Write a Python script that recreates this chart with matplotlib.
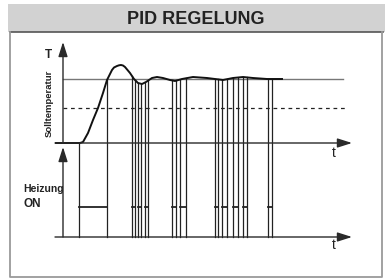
import numpy as np
import matplotlib
matplotlib.use('Agg')
import matplotlib.pyplot as plt

plt.rcParams['font.family'] = ['Liberation Sans', 'DejaVu Sans']

# temperature curve (x = time in px, y = screen px)
curve_x = [56, 80, 83, 88, 93, 98, 103, 107, 112, 114, 117, 119, 121, 123, 125, 130, 134, 138, 142,
           146, 152, 157, 163, 170, 175, 182, 193, 207, 215, 223, 233, 243, 253, 267, 282]
curve_y = [143, 143, 142, 133, 120, 108, 93, 80, 70, 67.5, 66, 65.3, 65, 65.5, 67, 73, 79, 83, 84,
           82, 78, 77, 78, 80, 81, 79, 77, 78, 79, 80, 78, 77, 78, 79, 79]

# heating pulses (start, end)
pulse_start = [79, 132, 138, 145, 172, 180, 215, 222, 233, 243, 268]
pulse_end = [107, 135, 141, 148, 176, 186, 218, 227, 238, 247, 272]

setpoint_y = 79
half_y = 108
t_axis_top = 143
t_axis_bot = 237
on_level = 207

fig = plt.figure(figsize=(3.85, 2.78), dpi=100)
ax = fig.add_axes([0, 0, 1, 1])
ax.set_xlim(0, 385)
ax.set_ylim(278, 0)
ax.axis('off')

# frame + title band
ax.add_patch(plt.Rectangle((8, 4), 377, 28, color='#d2d2d2', lw=0))
ax.plot([10, 383], [32, 32], color='#555555', lw=1.2)
ax.plot([10, 10, 382, 382], [32, 277, 277, 32], color='#9a9a9a', lw=1.3)
ax.text(196, 19, 'PID REGELUNG', ha='center', va='center', fontsize=13, fontweight='bold', color='#222222')

# reference lines
ax.plot([63, 343], [setpoint_y, setpoint_y], color='#777777', lw=1.0)
ax.plot([63, 345], [half_y, half_y], color='#222222', lw=0.9, ls=(0, (3, 3)))

# axes with arrows
arr = dict(arrowstyle='-|>,head_length=1.1,head_width=0.35', color='#2a2a2a', lw=1.0,
           mutation_scale=8, shrinkA=0, shrinkB=0)
ax.annotate('', xy=(63, 42), xytext=(63, t_axis_top), arrowprops=arr)
ax.annotate('', xy=(63, 147), xytext=(63, t_axis_bot), arrowprops=arr)
ax.annotate('', xy=(352, t_axis_top), xytext=(55, t_axis_top), arrowprops=arr)
ax.annotate('', xy=(352, t_axis_bot), xytext=(55, t_axis_bot), arrowprops=arr)

# pulses
for s, e in zip(pulse_start, pulse_end):
    for x in (s, e):
        ytop = np.interp(x, curve_x, curve_y)
        ax.plot([x, x], [t_axis_bot, ytop], color='#222222', lw=0.9)
    ax.plot([s, e], [on_level, on_level], color='#222222', lw=1.3)

# curve
ax.plot(curve_x, curve_y, color='#111111', lw=1.4, solid_joinstyle='round')

# labels
ax.text(48, 55, 'T', ha='center', va='center', fontsize=8.5, fontweight='bold', color='#222222')
ax.text(49, 103, 'Solltemperatur', ha='center', va='center', rotation=90, fontsize=6.8,
        fontweight='bold', color='#222222')
ax.text(23, 189, 'Heizung', ha='left', va='center', fontsize=7.5, fontweight='bold', color='#222222')
ax.text(23, 204, 'ON', ha='left', va='center', fontsize=8.5, fontweight='bold', color='#222222')
ax.text(334, 153, 't', ha='center', va='center', fontsize=10, color='#222222')
ax.text(334, 245, 't', ha='center', va='center', fontsize=10, color='#222222')

fig.savefig('out.png', dpi=100)
